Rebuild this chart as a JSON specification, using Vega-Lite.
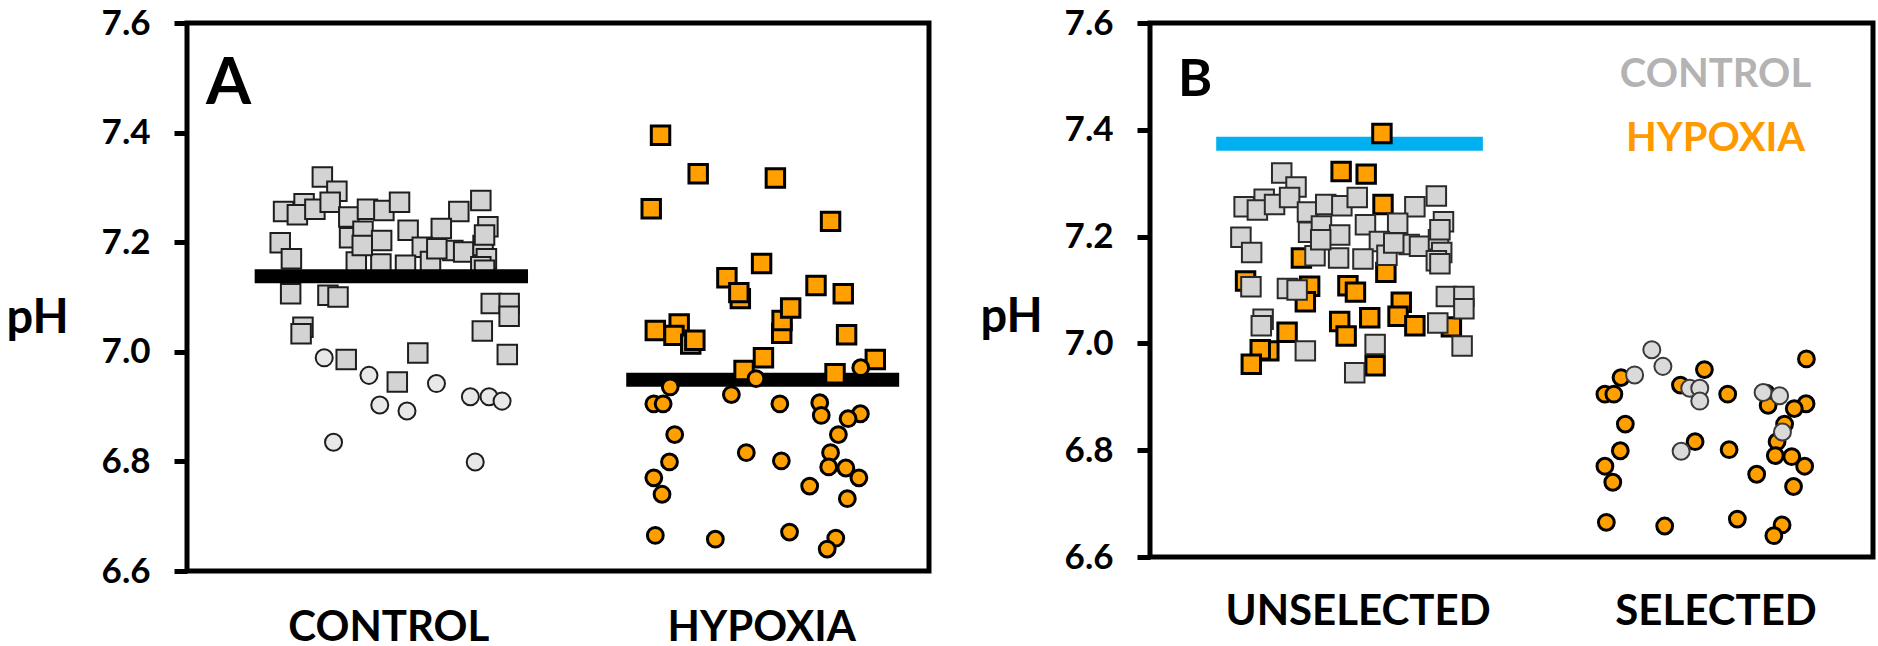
{
  "$schema": "https://vega.github.io/schema/vega-lite/v6.json",
  "background": "white",
  "padding": {"left": 3, "top": 3, "right": 0, "bottom": 0},
  "spacing": 45,
  "config": {
    "view": {"stroke": "black", "strokeWidth": 5},
    "font": "Lato",
    "axis": {"grid": false, "labelFont": "Lato", "labelFontWeight": "bold", "labelColor": "black", "titleFont": "Lato", "titleFontWeight": "bold", "titleColor": "black", "labelLimit": 600}
  },
  "datasets": {
    "panelA": [
      {"g":"CONTROL","s":"square","x":0.823,"ph":7.319},{"g":"CONTROL","s":"square","x":0.862,"ph":7.293},{"g":"CONTROL","s":"square","x":0.774,"ph":7.270},{"g":"CONTROL","s":"square","x":0.719,"ph":7.256},{"g":"CONTROL","s":"square","x":0.756,"ph":7.250},{"g":"CONTROL","s":"square","x":0.803,"ph":7.260},{"g":"CONTROL","s":"square","x":0.844,"ph":7.273},{"g":"CONTROL","s":"square","x":0.894,"ph":7.246},{"g":"CONTROL","s":"square","x":0.944,"ph":7.260},{"g":"CONTROL","s":"square","x":0.988,"ph":7.258},{"g":"CONTROL","s":"square","x":1.030,"ph":7.273},{"g":"CONTROL","s":"square","x":1.189,"ph":7.256},{"g":"CONTROL","s":"square","x":1.248,"ph":7.276},{"g":"CONTROL","s":"square","x":1.267,"ph":7.228},{"g":"CONTROL","s":"square","x":0.710,"ph":7.199},{"g":"CONTROL","s":"square","x":0.740,"ph":7.170},{"g":"CONTROL","s":"square","x":0.896,"ph":7.208},{"g":"CONTROL","s":"square","x":0.932,"ph":7.220},{"g":"CONTROL","s":"square","x":0.982,"ph":7.203},{"g":"CONTROL","s":"square","x":1.053,"ph":7.222},{"g":"CONTROL","s":"square","x":1.142,"ph":7.225},{"g":"CONTROL","s":"square","x":1.091,"ph":7.191},{"g":"CONTROL","s":"square","x":1.173,"ph":7.185},{"g":"CONTROL","s":"square","x":1.202,"ph":7.182},{"g":"CONTROL","s":"square","x":1.254,"ph":7.194},{"g":"CONTROL","s":"square","x":1.258,"ph":7.213},{"g":"CONTROL","s":"square","x":1.263,"ph":7.170},{"g":"CONTROL","s":"square","x":0.914,"ph":7.164},{"g":"CONTROL","s":"square","x":0.980,"ph":7.160},{"g":"CONTROL","s":"square","x":1.046,"ph":7.158},{"g":"CONTROL","s":"square","x":1.113,"ph":7.165},{"g":"CONTROL","s":"square","x":1.248,"ph":7.155},{"g":"CONTROL","s":"square","x":0.738,"ph":7.106},{"g":"CONTROL","s":"square","x":0.838,"ph":7.103},{"g":"CONTROL","s":"square","x":0.865,"ph":7.100},{"g":"CONTROL","s":"square","x":0.771,"ph":7.045},{"g":"CONTROL","s":"square","x":0.766,"ph":7.033},{"g":"CONTROL","s":"square","x":0.887,"ph":6.986},{"g":"CONTROL","s":"square","x":1.079,"ph":6.998},{"g":"CONTROL","s":"square","x":1.024,"ph":6.945},{"g":"CONTROL","s":"square","x":1.276,"ph":7.088},{"g":"CONTROL","s":"square","x":1.324,"ph":7.088},{"g":"CONTROL","s":"square","x":1.324,"ph":7.065},{"g":"CONTROL","s":"square","x":1.252,"ph":7.038},{"g":"CONTROL","s":"square","x":1.319,"ph":6.995},{"g":"CONTROL","s":"square","x":0.930,"ph":7.194},{"g":"CONTROL","s":"square","x":1.130,"ph":7.188},{"g":"CONTROL","s":"square","x":1.258,"ph":7.149},
      {"g":"CONTROL","s":"circle","x":0.828,"ph":6.989},{"g":"CONTROL","s":"circle","x":0.948,"ph":6.957},{"g":"CONTROL","s":"circle","x":0.977,"ph":6.903},{"g":"CONTROL","s":"circle","x":1.050,"ph":6.892},{"g":"CONTROL","s":"circle","x":1.129,"ph":6.942},{"g":"CONTROL","s":"circle","x":1.220,"ph":6.918},{"g":"CONTROL","s":"circle","x":1.270,"ph":6.918},{"g":"CONTROL","s":"circle","x":1.305,"ph":6.910},{"g":"CONTROL","s":"circle","x":0.853,"ph":6.835},{"g":"CONTROL","s":"circle","x":1.233,"ph":6.799},
      {"g":"HYPOXIA","s":"square","x":1.730,"ph":7.395},{"g":"HYPOXIA","s":"square","x":1.831,"ph":7.325},{"g":"HYPOXIA","s":"square","x":2.038,"ph":7.317},{"g":"HYPOXIA","s":"square","x":1.705,"ph":7.261},{"g":"HYPOXIA","s":"square","x":2.186,"ph":7.238},{"g":"HYPOXIA","s":"square","x":2.001,"ph":7.161},{"g":"HYPOXIA","s":"square","x":1.908,"ph":7.135},{"g":"HYPOXIA","s":"square","x":1.944,"ph":7.097},{"g":"HYPOXIA","s":"square","x":1.940,"ph":7.108},{"g":"HYPOXIA","s":"square","x":2.147,"ph":7.121},{"g":"HYPOXIA","s":"square","x":2.220,"ph":7.106},{"g":"HYPOXIA","s":"square","x":2.055,"ph":7.034},{"g":"HYPOXIA","s":"square","x":2.056,"ph":7.057},{"g":"HYPOXIA","s":"square","x":2.079,"ph":7.080},{"g":"HYPOXIA","s":"square","x":1.716,"ph":7.039},{"g":"HYPOXIA","s":"square","x":1.780,"ph":7.051},{"g":"HYPOXIA","s":"square","x":1.766,"ph":7.030},{"g":"HYPOXIA","s":"square","x":1.811,"ph":7.014},{"g":"HYPOXIA","s":"square","x":1.822,"ph":7.021},{"g":"HYPOXIA","s":"square","x":2.229,"ph":7.031},{"g":"HYPOXIA","s":"square","x":2.006,"ph":6.989},{"g":"HYPOXIA","s":"square","x":1.954,"ph":6.966},{"g":"HYPOXIA","s":"square","x":2.198,"ph":6.960},{"g":"HYPOXIA","s":"square","x":2.306,"ph":6.986},
      {"g":"HYPOXIA","s":"circle","x":1.756,"ph":6.936},{"g":"HYPOXIA","s":"circle","x":1.712,"ph":6.905},{"g":"HYPOXIA","s":"circle","x":1.737,"ph":6.905},{"g":"HYPOXIA","s":"circle","x":1.920,"ph":6.922},{"g":"HYPOXIA","s":"circle","x":1.986,"ph":6.951},{"g":"HYPOXIA","s":"circle","x":2.050,"ph":6.905},{"g":"HYPOXIA","s":"circle","x":2.157,"ph":6.907},{"g":"HYPOXIA","s":"circle","x":2.161,"ph":6.884},{"g":"HYPOXIA","s":"circle","x":2.267,"ph":6.971},{"g":"HYPOXIA","s":"circle","x":2.266,"ph":6.887},{"g":"HYPOXIA","s":"circle","x":2.233,"ph":6.878},{"g":"HYPOXIA","s":"circle","x":2.207,"ph":6.849},{"g":"HYPOXIA","s":"circle","x":1.768,"ph":6.849},{"g":"HYPOXIA","s":"circle","x":1.960,"ph":6.816},{"g":"HYPOXIA","s":"circle","x":2.054,"ph":6.801},{"g":"HYPOXIA","s":"circle","x":2.186,"ph":6.816},{"g":"HYPOXIA","s":"circle","x":1.754,"ph":6.799},{"g":"HYPOXIA","s":"circle","x":2.181,"ph":6.790},{"g":"HYPOXIA","s":"circle","x":2.227,"ph":6.788},{"g":"HYPOXIA","s":"circle","x":2.262,"ph":6.770},{"g":"HYPOXIA","s":"circle","x":1.712,"ph":6.770},{"g":"HYPOXIA","s":"circle","x":1.734,"ph":6.740},{"g":"HYPOXIA","s":"circle","x":2.130,"ph":6.755},{"g":"HYPOXIA","s":"circle","x":2.231,"ph":6.732},{"g":"HYPOXIA","s":"circle","x":1.716,"ph":6.665},{"g":"HYPOXIA","s":"circle","x":1.877,"ph":6.658},{"g":"HYPOXIA","s":"circle","x":2.076,"ph":6.671},{"g":"HYPOXIA","s":"circle","x":2.200,"ph":6.660},{"g":"HYPOXIA","s":"circle","x":2.177,"ph":6.640}
    ],
    "panelB": [
      {"g":"CONTROL","s":"square","x":0.788,"ph":7.319},{"g":"CONTROL","s":"square","x":0.828,"ph":7.293},{"g":"CONTROL","s":"square","x":0.739,"ph":7.270},{"g":"CONTROL","s":"square","x":0.683,"ph":7.256},{"g":"CONTROL","s":"square","x":0.720,"ph":7.250},{"g":"CONTROL","s":"square","x":0.768,"ph":7.260},{"g":"CONTROL","s":"square","x":0.810,"ph":7.273},{"g":"CONTROL","s":"square","x":0.860,"ph":7.246},{"g":"CONTROL","s":"square","x":0.911,"ph":7.260},{"g":"CONTROL","s":"square","x":0.956,"ph":7.258},{"g":"CONTROL","s":"square","x":0.999,"ph":7.273},{"g":"CONTROL","s":"square","x":1.160,"ph":7.256},{"g":"CONTROL","s":"square","x":1.220,"ph":7.276},{"g":"CONTROL","s":"square","x":1.240,"ph":7.228},{"g":"CONTROL","s":"square","x":0.674,"ph":7.199},{"g":"CONTROL","s":"square","x":0.704,"ph":7.170},{"g":"CONTROL","s":"square","x":0.863,"ph":7.208},{"g":"CONTROL","s":"square","x":0.899,"ph":7.220},{"g":"CONTROL","s":"square","x":0.950,"ph":7.203},{"g":"CONTROL","s":"square","x":1.022,"ph":7.222},{"g":"CONTROL","s":"square","x":1.112,"ph":7.225},{"g":"CONTROL","s":"square","x":1.061,"ph":7.191},{"g":"CONTROL","s":"square","x":1.144,"ph":7.185},{"g":"CONTROL","s":"square","x":1.173,"ph":7.182},{"g":"CONTROL","s":"square","x":1.226,"ph":7.194},{"g":"CONTROL","s":"square","x":1.230,"ph":7.213},{"g":"CONTROL","s":"square","x":1.235,"ph":7.170},{"g":"CONTROL","s":"square","x":0.881,"ph":7.164},{"g":"CONTROL","s":"square","x":0.947,"ph":7.160},{"g":"CONTROL","s":"square","x":1.015,"ph":7.158},{"g":"CONTROL","s":"square","x":1.082,"ph":7.165},{"g":"CONTROL","s":"square","x":1.220,"ph":7.155},{"g":"CONTROL","s":"square","x":0.702,"ph":7.106},{"g":"CONTROL","s":"square","x":0.804,"ph":7.103},{"g":"CONTROL","s":"square","x":0.831,"ph":7.100},{"g":"CONTROL","s":"square","x":0.736,"ph":7.045},{"g":"CONTROL","s":"square","x":0.731,"ph":7.033},{"g":"CONTROL","s":"square","x":0.854,"ph":6.986},{"g":"CONTROL","s":"square","x":1.049,"ph":6.998},{"g":"CONTROL","s":"square","x":0.992,"ph":6.945},{"g":"CONTROL","s":"square","x":1.248,"ph":7.088},{"g":"CONTROL","s":"square","x":1.297,"ph":7.088},{"g":"CONTROL","s":"square","x":1.297,"ph":7.065},{"g":"CONTROL","s":"square","x":1.224,"ph":7.038},{"g":"CONTROL","s":"square","x":1.292,"ph":6.995},{"g":"CONTROL","s":"square","x":0.897,"ph":7.194},{"g":"CONTROL","s":"square","x":1.101,"ph":7.188},{"g":"CONTROL","s":"square","x":1.230,"ph":7.149},
      {"g":"CONTROL","s":"circle","x":1.822,"ph":6.988},{"g":"CONTROL","s":"circle","x":1.853,"ph":6.957},{"g":"CONTROL","s":"circle","x":1.774,"ph":6.941},{"g":"CONTROL","s":"circle","x":1.928,"ph":6.916},{"g":"CONTROL","s":"circle","x":1.956,"ph":6.916},{"g":"CONTROL","s":"circle","x":1.956,"ph":6.892},{"g":"CONTROL","s":"circle","x":1.904,"ph":6.798},{"g":"CONTROL","s":"circle","x":2.133,"ph":6.908},{"g":"CONTROL","s":"circle","x":2.179,"ph":6.902},{"g":"CONTROL","s":"circle","x":2.187,"ph":6.834},
      {"g":"HYPOXIA","s":"square","x":1.068,"ph":7.393},{"g":"HYPOXIA","s":"square","x":0.954,"ph":7.322},{"g":"HYPOXIA","s":"square","x":1.024,"ph":7.317},{"g":"HYPOXIA","s":"square","x":1.071,"ph":7.260},{"g":"HYPOXIA","s":"square","x":0.843,"ph":7.160},{"g":"HYPOXIA","s":"square","x":1.079,"ph":7.133},{"g":"HYPOXIA","s":"square","x":0.687,"ph":7.117},{"g":"HYPOXIA","s":"square","x":0.866,"ph":7.107},{"g":"HYPOXIA","s":"square","x":0.854,"ph":7.078},{"g":"HYPOXIA","s":"square","x":0.973,"ph":7.108},{"g":"HYPOXIA","s":"square","x":0.994,"ph":7.096},{"g":"HYPOXIA","s":"square","x":1.122,"ph":7.077},{"g":"HYPOXIA","s":"square","x":1.113,"ph":7.051},{"g":"HYPOXIA","s":"square","x":1.034,"ph":7.048},{"g":"HYPOXIA","s":"square","x":0.950,"ph":7.041},{"g":"HYPOXIA","s":"square","x":0.968,"ph":7.014},{"g":"HYPOXIA","s":"square","x":1.160,"ph":7.033},{"g":"HYPOXIA","s":"square","x":1.262,"ph":7.031},{"g":"HYPOXIA","s":"square","x":0.803,"ph":7.021},{"g":"HYPOXIA","s":"square","x":0.752,"ph":6.986},{"g":"HYPOXIA","s":"square","x":0.728,"ph":6.988},{"g":"HYPOXIA","s":"square","x":0.703,"ph":6.961},{"g":"HYPOXIA","s":"square","x":1.049,"ph":6.958},
      {"g":"HYPOXIA","s":"circle","x":1.736,"ph":6.936},{"g":"HYPOXIA","s":"circle","x":1.691,"ph":6.905},{"g":"HYPOXIA","s":"circle","x":1.716,"ph":6.905},{"g":"HYPOXIA","s":"circle","x":1.902,"ph":6.922},{"g":"HYPOXIA","s":"circle","x":1.969,"ph":6.951},{"g":"HYPOXIA","s":"circle","x":2.034,"ph":6.905},{"g":"HYPOXIA","s":"circle","x":2.142,"ph":6.907},{"g":"HYPOXIA","s":"circle","x":2.147,"ph":6.884},{"g":"HYPOXIA","s":"circle","x":2.254,"ph":6.971},{"g":"HYPOXIA","s":"circle","x":2.253,"ph":6.887},{"g":"HYPOXIA","s":"circle","x":2.220,"ph":6.878},{"g":"HYPOXIA","s":"circle","x":2.193,"ph":6.849},{"g":"HYPOXIA","s":"circle","x":1.748,"ph":6.849},{"g":"HYPOXIA","s":"circle","x":1.943,"ph":6.816},{"g":"HYPOXIA","s":"circle","x":2.038,"ph":6.801},{"g":"HYPOXIA","s":"circle","x":2.172,"ph":6.816},{"g":"HYPOXIA","s":"circle","x":1.734,"ph":6.799},{"g":"HYPOXIA","s":"circle","x":2.167,"ph":6.790},{"g":"HYPOXIA","s":"circle","x":2.213,"ph":6.788},{"g":"HYPOXIA","s":"circle","x":2.249,"ph":6.770},{"g":"HYPOXIA","s":"circle","x":1.691,"ph":6.770},{"g":"HYPOXIA","s":"circle","x":1.713,"ph":6.740},{"g":"HYPOXIA","s":"circle","x":2.115,"ph":6.755},{"g":"HYPOXIA","s":"circle","x":2.218,"ph":6.732},{"g":"HYPOXIA","s":"circle","x":1.695,"ph":6.665},{"g":"HYPOXIA","s":"circle","x":1.858,"ph":6.658},{"g":"HYPOXIA","s":"circle","x":2.061,"ph":6.671},{"g":"HYPOXIA","s":"circle","x":2.186,"ph":6.660},{"g":"HYPOXIA","s":"circle","x":2.163,"ph":6.640}
    ],
    "linesA": [
      {"g":"CONTROL","x":0.6415,"x2":1.3746,"ph":7.138},
      {"g":"HYPOXIA","x":1.638,"x2":2.370,"ph":6.949}
    ],
    "linesB": [
      {"g":"THRESHOLD","x":0.605,"x2":1.350,"ph":7.374}
    ],
    "notesA": [
      {"t":"A","x":0.511,"ph":7.452}
    ],
    "notesB": [
      {"t":"B","k":"panel","x":0.498,"ph":7.464},
      {"t":"CONTROL","k":"CONTROL","x":2.0,"ph":7.503},
      {"t":"HYPOXIA","k":"HYPOXIA","x":2.0,"ph":7.383}
    ]
  },
  "hconcat": [
    {
      "width": 742,
      "height": 548,
      "data": {"name": "panelA"},
      "encoding": {
        "x": {"field": "x", "type": "quantitative",
          "scale": {"domain": [0.46, 2.45], "nice": false, "zero": false},
          "axis": {"values": [1, 2], "labelExpr": "datum.value == 1 ? 'CONTROL' : 'HYPOXIA'", "ticks": false, "tickSize": 0, "domain": false, "labelFontSize": 42, "labelPadding": 36, "title": null, "labelFlush": false, "labelOverlap": false, "labelLimit": 600}},
        "y": {"field": "ph", "type": "quantitative",
          "scale": {"domain": [6.6, 7.6], "nice": false, "zero": false},
          "axis": {"values": [6.6, 6.8, 7.0, 7.2, 7.4, 7.6], "format": ".1f", "domain": false, "tickSize": 13, "tickWidth": 5, "tickColor": "black", "labelFontSize": 35, "labelPadding": 24, "labelFlush": false, "title": "pH", "titleAngle": 0, "titleAlign": "left", "titleBaseline": "alphabetic", "titleX": -181, "titleY": 309, "titleFontSize": 47}}
      },
      "layer": [
        {"transform": [{"filter": "datum.g == 'CONTROL' && datum.s == 'square'"}],
         "mark": {"type": "point", "shape": "square", "filled": true, "fill": "#d3d3d3", "stroke": "#1e1e1e", "strokeWidth": 2, "size": 380, "opacity": 1}},
        {"transform": [{"filter": "datum.g == 'CONTROL' && datum.s == 'circle'"}],
         "mark": {"type": "point", "shape": "circle", "filled": true, "fill": "#e8e8e8", "stroke": "#1e1e1e", "strokeWidth": 2, "size": 290, "opacity": 1}},
        {"data": {"name": "linesA"},
         "mark": {"type": "rule", "color": "black", "strokeWidth": 14, "strokeCap": "butt"},
         "encoding": {"x2": {"field": "x2"}}},
        {"transform": [{"filter": "datum.g == 'HYPOXIA' && datum.s == 'square'"}],
         "mark": {"type": "point", "shape": "square", "filled": true, "fill": "#ff9f00", "stroke": "black", "strokeWidth": 3, "size": 340, "opacity": 1}},
        {"transform": [{"filter": "datum.g == 'HYPOXIA' && datum.s == 'circle'"}],
         "mark": {"type": "point", "shape": "circle", "filled": true, "fill": "#ff9f00", "stroke": "black", "strokeWidth": 3, "size": 250, "opacity": 1}},
        {"data": {"name": "notesA"},
         "mark": {"type": "text", "font": "Lato", "fontWeight": "bold", "fontSize": 65, "align": "left", "baseline": "alphabetic", "color": "black"},
         "encoding": {"text": {"field": "t"}}}
      ]
    },
    {
      "width": 723,
      "height": 534,
      "data": {"name": "panelB"},
      "encoding": {
        "x": {"field": "x", "type": "quantitative",
          "scale": {"domain": [0.42, 2.44], "nice": false, "zero": false},
          "axis": {"values": [1, 2], "labelExpr": "datum.value == 1 ? 'UNSELECTED' : 'SELECTED'", "ticks": false, "tickSize": 0, "domain": false, "labelFontSize": 42, "labelPadding": 34, "title": null, "labelFlush": false, "labelOverlap": false, "labelLimit": 600}},
        "y": {"field": "ph", "type": "quantitative",
          "scale": {"domain": [6.6, 7.6], "nice": false, "zero": false},
          "axis": {"values": [6.6, 6.8, 7.0, 7.2, 7.4, 7.6], "format": ".1f", "domain": false, "tickSize": 13, "tickWidth": 5, "tickColor": "black", "labelFontSize": 35, "labelPadding": 24, "labelFlush": false, "title": "pH", "titleAngle": 0, "titleAlign": "left", "titleBaseline": "alphabetic", "titleX": -170, "titleY": 308, "titleFontSize": 47}}
      },
      "layer": [
        {"data": {"name": "linesB"},
         "mark": {"type": "rule", "color": "#00b0f0", "strokeWidth": 14, "strokeCap": "butt"},
         "encoding": {"x2": {"field": "x2"}}},
        {"transform": [{"filter": "datum.g == 'HYPOXIA' && datum.s == 'square'"}],
         "mark": {"type": "point", "shape": "square", "filled": true, "fill": "#ff9f00", "stroke": "black", "strokeWidth": 3, "size": 340, "opacity": 1}},
        {"transform": [{"filter": "datum.g == 'CONTROL' && datum.s == 'square'"}],
         "mark": {"type": "point", "shape": "square", "filled": true, "fill": "#d4d4d4", "stroke": "#2a2a2a", "strokeWidth": 2, "size": 380, "opacity": 1}},
        {"transform": [{"filter": "datum.g == 'HYPOXIA' && datum.s == 'circle'"}],
         "mark": {"type": "point", "shape": "circle", "filled": true, "fill": "#ff9f00", "stroke": "black", "strokeWidth": 3, "size": 250, "opacity": 1}},
        {"transform": [{"filter": "datum.g == 'CONTROL' && datum.s == 'circle'"}],
         "mark": {"type": "point", "shape": "circle", "filled": true, "fill": "#dadada", "stroke": "#3a3a3a", "strokeWidth": 2, "size": 290, "opacity": 1}},
        {"data": {"name": "notesB"},
         "transform": [{"filter": "datum.k == 'panel'"}],
         "mark": {"type": "text", "font": "Lato", "fontWeight": "bold", "fontSize": 52, "align": "left", "baseline": "alphabetic", "color": "black"},
         "encoding": {"text": {"field": "t"}}},
        {"data": {"name": "notesB"},
         "transform": [{"filter": "datum.k == 'CONTROL'"}],
         "mark": {"type": "text", "font": "Lato", "fontWeight": "bold", "fontSize": 40, "align": "center", "baseline": "middle", "color": "#b3b3b3"},
         "encoding": {"text": {"field": "t"}}},
        {"data": {"name": "notesB"},
         "transform": [{"filter": "datum.k == 'HYPOXIA'"}],
         "mark": {"type": "text", "font": "Lato", "fontWeight": "bold", "fontSize": 40, "align": "center", "baseline": "middle", "color": "#ff9900"},
         "encoding": {"text": {"field": "t"}}}
      ]
    }
  ]
}
